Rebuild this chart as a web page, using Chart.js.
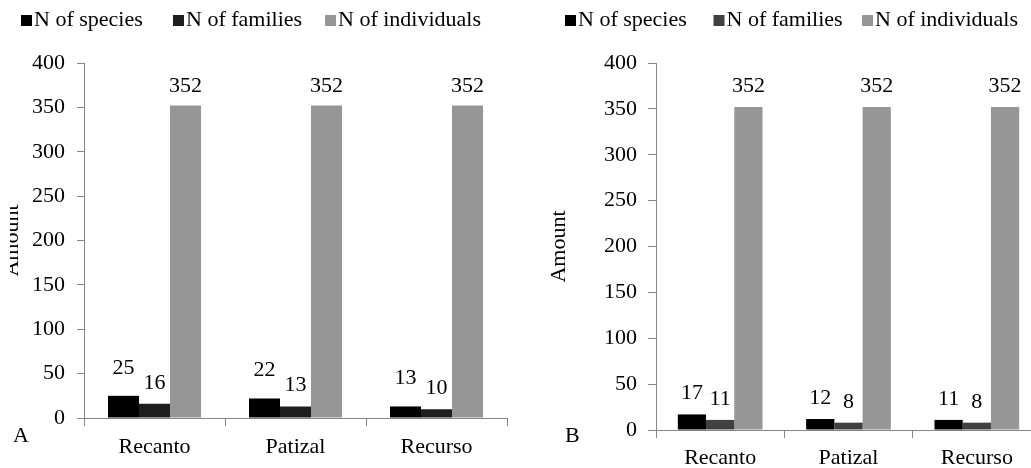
<!DOCTYPE html>
<html><head><meta charset="utf-8">
<script src="https://cdn.jsdelivr.net/npm/chart.js@4.4.1/dist/chart.umd.min.js"></script>
<style>
html,body{margin:0;padding:0;overflow:hidden;background:#fff;}
#wrap{position:relative;width:1031px;height:468px;overflow:hidden;background:#fff;}
#ca{position:absolute;left:10px;top:0;}
#cb{position:absolute;left:520px;top:0;}
</style></head><body>
<div id="wrap">
<canvas id="ca" width="510" height="468"></canvas>
<canvas id="cb" width="530" height="468"></canvas>
</div>
<script>
// ---- data ----
const categories = ['Recanto', 'Patizal', 'Recurso'];
const seriesNames = ['N of species', 'N of families', 'N of individuals'];
const speciesA = [25, 22, 13];
const familiesA = [16, 13, 10];
const individualsA = [352, 352, 352];
const speciesB = [17, 12, 11];
const familiesB = [11, 8, 8];
const individualsB = [352, 352, 352];
const yMin = 0, yMax = 400, yStep = 50;
const axisTitle = 'Amount';
const panelLabels = ['A', 'B'];

// ---- styles ----
const FONT = "'Liberation Serif', 'Times New Roman', serif";
Chart.defaults.font.family = FONT;
Chart.defaults.font.size = 22;
Chart.defaults.color = '#000';
const AXIS = '#868686';

const valueLabels = {
  id: 'valueLabels',
  afterDatasetsDraw(chart, args, opts) {
    const ctx = chart.ctx;
    ctx.save();
    ctx.font = '22px ' + FONT;
    ctx.fillStyle = '#000';
    ctx.textAlign = 'center';
    ctx.textBaseline = 'alphabetic';
    chart.data.datasets.forEach((ds, i) => {
      const meta = chart.getDatasetMeta(i);
      meta.data.forEach((bar, j) => {
        ctx.fillText(String(ds.data[j]), bar.x, bar.y - opts.offsets[i]);
      });
    });
    ctx.restore();
  }
};

const boxLegend = {
  id: 'boxLegend',
  afterDraw(chart, args, opts) {
    const ctx = chart.ctx;
    ctx.save();
    ctx.font = '22px ' + FONT;
    ctx.textAlign = 'left';
    ctx.textBaseline = 'alphabetic';
    chart.data.datasets.forEach((ds, i) => {
      const x = opts.x + i * opts.step;
      ctx.fillStyle = ds.backgroundColor;
      ctx.fillRect(x, opts.boxY, opts.box, opts.box);
      ctx.fillStyle = '#000';
      ctx.fillText(ds.label, x + opts.box + opts.gap, opts.baseline);
    });
    if (opts.panel) {
      ctx.fillText(opts.panel, opts.panelX, opts.panelY);
    }
    ctx.restore();
  }
};

function makeChart(id, sp, fa, ind, famColor, o) {
  return new Chart(document.getElementById(id), {
    type: 'bar',
    data: {
      labels: categories,
      datasets: [
        { label: seriesNames[0], data: sp, backgroundColor: '#000000' },
        { label: seriesNames[1], data: fa, backgroundColor: famColor },
        { label: seriesNames[2], data: ind, backgroundColor: '#969696' }
      ]
    },
    options: {
      responsive: false,
      animation: false,
      events: [],
      datasets: { bar: { categoryPercentage: 0.66, barPercentage: 1.0 } },
      layout: { padding: { left: 0, right: o.padRight, top: 63, bottom: 0 } },
      plugins: {
        legend: { display: false },
        tooltip: { enabled: false },
        valueLabels: { offsets: o.offsets },
        boxLegend: o.legend
      },
      scales: {
        x: {
          offset: true,
          ticks: { padding: o.xPad, color: '#000' },
          grid: { offset: true, drawOnChartArea: false, drawTicks: true, tickLength: 8, color: AXIS },
          border: { display: true, color: AXIS },
          afterFit(s) { s.height = o.xHeight; }
        },
        y: {
          min: yMin, max: yMax,
          ticks: { stepSize: yStep, padding: o.yPad, color: '#000' },
          grid: { drawOnChartArea: false, drawTicks: true, tickLength: o.yTick, color: AXIS },
          border: { display: true, color: AXIS },
          title: { display: true, text: axisTitle, color: '#000', padding: { top: o.titlePad, bottom: 0 } },
          afterFit(s) { s.width = o.yWidth; }
        }
      }
    },
    plugins: [valueLabels, boxLegend]
  });
}

makeChart('ca', speciesA, familiesA, individualsA, '#1e1e1e', {
  padRight: 13, xHeight: 50, xPad: 8, yWidth: 74, yPad: 12, yTick: 7, titlePad: -10.6,
  offsets: [22, 15, 14],
  legend: { x: 11, step: 152, box: 11, boxY: 15, gap: 2, baseline: 26, panel: panelLabels[0], panelX: 3, panelY: 442 }
});
makeChart('cb', speciesB, familiesB, individualsB, '#404040', {
  padRight: 9, xHeight: 38, xPad: 7, yWidth: 136, yPad: 11, yTick: 8, titlePad: 26.4,
  offsets: [15, 15, 15],
  legend: { x: 45, step: 148.5, box: 11, boxY: 15, gap: 2, baseline: 26, panel: panelLabels[1], panelX: 45, panelY: 442 }
});
</script>
</body></html>
